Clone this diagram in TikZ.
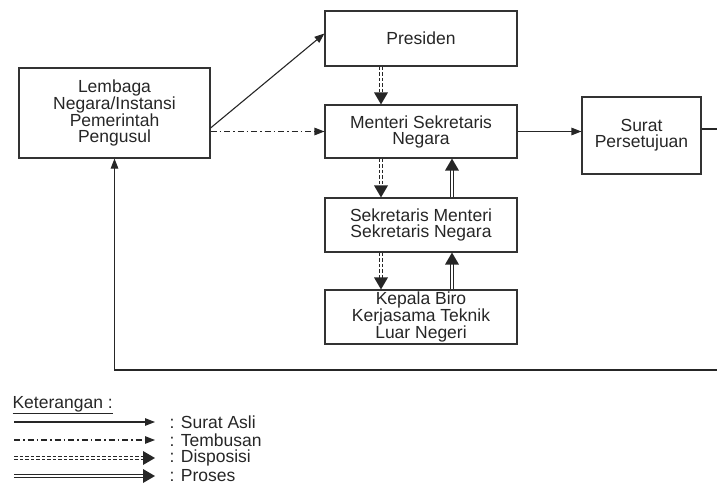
\documentclass[tikz,border=0pt]{standalone}
\usepackage{fontspec}
\setmainfont{Liberation Sans}
\usetikzlibrary{arrows.meta,calc}
\tikzset{
  kotak/.style={draw=black!80, line width=1.1pt, inner sep=0pt, align=center,
    text=black!85, font=\fontsize{17.5}{16}\selectfont},
  garis/.style={draw=black!85, line width=1.1pt},
  asli/.style={garis, -{Triangle[length=10pt,width=7.5pt]}},
  tembusan/.style={asli, dash pattern=on 6pt off 3pt on 1.5pt off 3pt},
  disposisi/.style={garis, double, double distance=1.6pt, dash pattern=on 3.5pt off 2pt},
  proses/.style={garis, double, double distance=1.6pt},
  ket/.style={anchor=west, text=black!85, font=\fontsize{17.5}{16}\selectfont}
}
% garis ganda dengan ujung segitiga penuh
\newcommand\panahganda[3]{%
  \draw[#1, shorten >=10pt] (#2) -- (#3);
  \fill[black!85] (#3) -- ($(#3)!12pt!(#2)!7pt!90:(#3)$)
    -- ($(#3)!12pt!(#2)!7pt!-90:(#3)$) -- cycle;}
\begin{document}
\begin{tikzpicture}[x=1pt,y=-1pt]
  \useasboundingbox (0,0) rectangle (717,487);
  % kotak-kotak
  \node[kotak, minimum width=191pt, minimum height=90pt] (lembaga) at (114.5,113)
    {Lembaga\\Negara/Instansi\\Pemerintah\\Pengusul};
  \node[kotak, minimum width=192pt, minimum height=55pt] (presiden) at (421,38.5) {Presiden};
  \node[kotak, minimum width=192pt, minimum height=53pt] (menteri) at (421,131.5)
    {Menteri Sekretaris\\Negara};
  \node[kotak, minimum width=119pt, minimum height=77pt] (surat) at (641.5,135.5)
    {Surat\\Persetujuan};
  \node[kotak, minimum width=192pt, minimum height=54pt] (sekmen) at (421,225)
    {Sekretaris Menteri\\Sekretaris Negara};
  \node[kotak, minimum width=192pt, minimum height=54pt] (kepala) at (421,317)
    {Kepala Biro\\Kerjasama Teknik\\Luar Negeri};
  \coordinate (kanan) at (717,129);
  \coordinate (bawah) at (717,370);
  % ujung-ujung garis ganda
  \coordinate (d1) at ([xshift=-40pt]presiden.south);
  \coordinate (d2) at ([xshift=-40pt]menteri.north);
  \coordinate (d3) at ([xshift=-40pt]menteri.south);
  \coordinate (d4) at ([xshift=-40pt]sekmen.north);
  \coordinate (d5) at ([xshift=-40pt]sekmen.south);
  \coordinate (d6) at ([xshift=-40pt]kepala.north);
  \coordinate (p1) at ([xshift=31pt]kepala.north);
  \coordinate (p2) at ([xshift=31pt]sekmen.south);
  \coordinate (p3) at ([xshift=31pt]sekmen.north);
  \coordinate (p4) at ([xshift=31pt]menteri.south);
  % alur
  \draw[asli] ([yshift=-15pt]lembaga.east) -- ([yshift=5pt]presiden.west);
  \draw[tembusan] (lembaga.east |- menteri.west) -- (menteri.west);
  \draw[asli] (menteri.east) -- (surat.west |- menteri.east);
  \draw[garis] (surat.east |- kanan) -- (kanan);
  \panahganda{disposisi}{d1}{d2}
  \panahganda{disposisi}{d3}{d4}
  \panahganda{disposisi}{d5}{d6}
  \panahganda{proses}{p1}{p2}
  \panahganda{proses}{p3}{p4}
  \draw[asli] (bawah) -- (bawah -| lembaga.south) -- (lembaga.south);
  % keterangan
  \node[ket] (judul) at (9,405) {\underline{Keterangan :}};
  \foreach \gaya/\teks [count=\i] in {asli/Surat Asli, tembusan/Tembusan} {
    \node[ket] (k\i) at (166,404+18*\i) {: \teks};
    \coordinate (a\i) at (14,404+18*\i);
    \draw[\gaya] (a\i) -- ([xshift=-11pt]k\i.west);
  }
  \foreach \gaya/\teks [count=\i from 3] in {disposisi/Disposisi, proses/Proses} {
    \node[ket] (k\i) at (166,404+18*\i) {: \teks};
    \coordinate (a\i) at (14,404+18*\i);
    \coordinate (b\i) at ([xshift=-11pt]k\i.west);
    \panahganda{\gaya}{a\i}{b\i}
  }
\end{tikzpicture}
\end{document}
